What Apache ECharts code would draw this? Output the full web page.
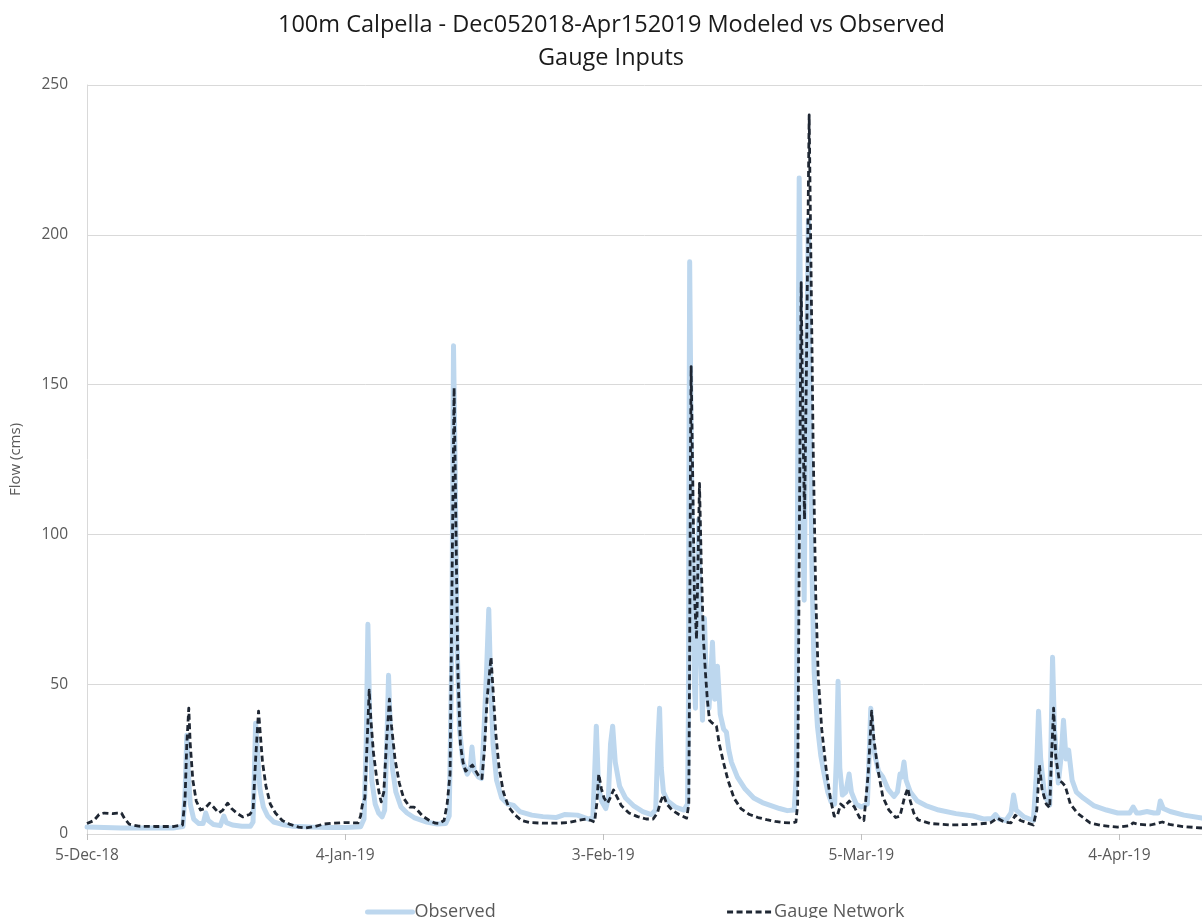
<!DOCTYPE html>
<html>
<head>
<meta charset="utf-8">
<script src="https://cdn.jsdelivr.net/npm/echarts@6/dist/echarts.min.js"></script>
<style>
html,body{margin:0;padding:0;background:#fff;}
#chart{width:1202px;height:918px;}
</style>
</head>
<body>
<div id="chart"></div>
<script>
// ---- data ----
var titleLines = ['100m Calpella - Dec052018-Apr152019 Modeled vs Observed', 'Gauge Inputs'];
var seriesNames = ['Observed', 'Gauge Network'];
var startDate = [2018, 11, 5];          // 5-Dec-2018 (day 0)
var xMaxDay = 129.6;                     // right edge of plot (days from start)
var xTickDays = [0, 30, 60, 90, 120];
var yTicks = [0, 50, 100, 150, 200, 250];
var monthNames = ['Jan','Feb','Mar','Apr','May','Jun','Jul','Aug','Sep','Oct','Nov','Dec'];

// [days since 5-Dec-2018, flow (cms)]
var observed = [[0,2.3],[2,2.2],[4,2.0],[6,2.0],[8,2.0],[10,2.0],[11.15,2.5],[11.4,14],[11.6,33],[11.75,22],[12.0,10],[12.4,5],[13.0,3.5],[13.5,3.5],[13.8,7],[14.1,4.5],[14.7,3.2],[15.5,2.8],[15.9,6],[16.2,3.8],[16.9,3.0],[18.0,2.6],[19.0,2.6],[19.3,4],[19.45,20],[19.6,37],[19.8,28],[20.1,15],[20.5,9],[21.0,6],[21.7,4],[22.7,3.2],[24,2.6],[26,2.3],[28,2.2],[30,2.2],[31.8,2.4],[32.2,5],[32.45,30],[32.65,70],[32.85,40],[33.1,18],[33.5,10],[33.9,7],[34.3,5.7],[34.6,8],[34.85,30],[35.05,53],[35.25,35],[35.5,22],[35.9,14],[36.5,9],[37.2,7],[38,5.5],[39.5,4],[40.7,3.3],[41.7,3.5],[42.1,6],[42.4,60],[42.6,163],[42.8,120],[43.0,65],[43.3,35],[43.7,24],[44.2,20],[44.55,22],[44.75,29],[45.0,21],[45.5,19],[45.85,18.5],[46.15,35],[46.45,55],[46.7,75],[46.9,52],[47.2,30],[47.6,18],[48.2,12],[48.9,10],[49.6,9.5],[50.3,7.5],[51.7,6.3],[53,5.8],[54.5,5.5],[55.5,6.5],[57,6.3],[58.3,5],[58.8,5.5],[59.0,20],[59.2,36],[59.45,16],[59.8,11],[60.3,8.5],[60.6,12],[60.85,30],[61.1,36],[61.4,24],[61.9,16],[62.6,12],[63.5,9.5],[64.6,7.5],[65.6,6.5],[66.1,8],[66.35,30],[66.55,42],[66.75,22],[67.0,14],[67.5,11],[68.4,9],[69.4,8],[69.8,10],[69.9,40],[69.97,120],[70.05,191],[70.2,140],[70.4,80],[70.6,50],[70.72,42],[70.9,75],[71.1,105],[71.35,60],[71.54,38],[71.77,72],[72.0,50],[72.3,42],[72.7,64],[72.95,45],[73.28,56],[73.6,40],[74.0,35],[74.32,34],[74.6,28],[74.9,24],[75.6,19],[76.5,15],[77.5,12],[78.5,10.5],[79.5,9.5],[80.5,8.5],[81.4,7.8],[82.2,8],[82.45,20],[82.6,120],[82.78,219],[82.95,170],[83.15,110],[83.36,78],[83.6,150],[83.85,205],[84.05,140],[84.25,90],[84.52,54],[84.9,36],[85.3,26],[85.68,20],[86.1,14],[86.49,10.7],[86.9,10],[87.1,25],[87.3,51],[87.5,22],[87.8,13],[88.2,14],[88.58,20],[88.85,14],[89.4,10],[90.0,9],[90.7,10],[90.9,25],[91.1,42],[91.35,30],[91.6,26],[92.0,21],[92.5,19],[93.1,15],[93.8,12.5],[94.2,14],[94.5,20],[94.7,19],[94.96,24],[95.2,18],[95.7,14],[96.5,11],[97.5,9.5],[99,8],[101,6.8],[103,6],[104.2,5],[105.2,5.2],[105.6,6.5],[106.0,5],[106.8,4.5],[107.4,7],[107.7,13],[108.0,8],[108.9,5.7],[110.0,4.5],[110.35,20],[110.6,41],[110.85,25],[111.3,13],[111.9,9.7],[112.05,30],[112.23,59],[112.45,35],[112.9,17],[113.2,25],[113.5,38],[113.8,25],[114.1,28],[114.5,18],[115.0,14],[115.8,12],[117,9.5],[118.5,8],[119.8,7],[121.2,7],[121.6,9],[122.0,7],[122.4,7],[123.2,7.5],[124,7],[124.5,7],[124.75,11],[125.1,8.5],[125.9,7.5],[127.5,6.3],[129.6,5.3]];

var gaugeNetwork = [[0,3.5],[0.8,4.5],[1.4,6.5],[2.0,7],[3.0,6.8],[3.5,7],[4.0,7],[4.4,5],[4.9,3.3],[6,2.6],[8,2.5],[10,2.5],[11.1,3],[11.4,12],[11.6,30],[11.83,42],[12.0,30],[12.3,18],[12.7,11],[13.2,8],[13.7,8.5],[14.26,10.3],[14.7,9],[15.3,7],[15.8,8],[16.35,10.3],[16.8,8.5],[17.4,7],[18.09,5.7],[18.9,6.5],[19.3,8],[19.6,25],[19.94,41],[20.1,35],[20.4,24],[20.8,16],[21.3,10],[21.9,7],[22.7,4.5],[23.6,3.2],[24.6,2.3],[25.4,2],[26.5,2.5],[27.5,3.3],[28.5,3.6],[30,3.8],[31.5,3.7],[31.8,6],[32.0,9.7],[32.3,12],[32.55,30],[32.8,48],[33.0,38],[33.3,27],[33.7,18],[34.0,13],[34.2,10.7],[34.5,14],[34.8,30],[35.15,45],[35.4,36],[35.8,25],[36.3,17],[36.8,12],[37.5,9],[38.0,9],[38.4,8],[39.0,6],[39.8,4.5],[40.5,3.6],[40.9,3.5],[41.5,4.5],[41.86,10],[42.2,20],[42.45,90],[42.67,149],[42.85,110],[43.1,55],[43.4,30],[43.7,24],[44.0,21],[44.4,22],[44.8,23],[45.2,21],[45.6,19],[45.9,18.5],[46.2,28],[46.5,45],[46.96,59],[47.2,48],[47.5,34],[47.9,22],[48.4,14],[49.0,9],[49.7,6.5],[50.5,4.5],[51.5,3.8],[53,3.6],[54.5,3.6],[56,3.8],[57,4.5],[58,5],[58.6,4.5],[59.0,4],[59.25,10],[59.48,20],[59.8,15],[60.1,12],[60.5,10.3],[60.8,12],[61.2,14.7],[61.5,13],[62.1,9.5],[63,7],[64,5.8],[65,5],[65.8,5],[66.3,7],[66.7,11],[67.0,13],[67.4,10],[68,8],[68.8,6.5],[69.7,5.3],[69.95,10],[70.05,60],[70.15,130],[70.22,156],[70.4,120],[70.6,80],[70.85,65],[71.05,95],[71.19,117],[71.4,90],[71.65,65],[71.88,54],[72.1,45],[72.35,38],[72.7,37],[73.16,36],[73.5,30],[73.97,24],[74.5,18],[75.2,12],[76,8.5],[77,6.5],[78,5.5],[79,4.8],[80,4.2],[81,3.8],[82.0,3.7],[82.4,4],[82.6,10],[82.8,100],[83.01,184],[83.2,140],[83.4,105],[83.6,150],[83.94,240],[84.15,190],[84.4,130],[84.7,80],[85.0,52],[85.4,35],[85.9,22],[86.4,12],[86.84,6],[87.2,6],[87.6,10],[88.0,9],[88.6,11],[89.2,9],[89.8,5.5],[90.3,4.5],[90.8,20],[91.2,41],[91.45,32],[91.9,22],[92.5,12.4],[93.2,8],[94.0,5.5],[94.5,6],[95.0,12],[95.4,15.3],[95.7,11],[96.1,7],[96.6,4.7],[98,3.5],[100.4,3],[103,3.2],[105,3.7],[105.8,5.3],[106.6,4],[107.4,3.7],[107.9,6.3],[108.5,4.5],[110.0,3],[110.4,8],[110.7,23],[111.0,15],[111.5,10],[111.9,8.7],[112.1,25],[112.35,42],[112.6,26],[113.0,18],[113.4,17],[113.7,16],[114.3,10],[115.1,7],[116.6,3.7],[118,2.8],[119.8,2.3],[121.2,2.8],[121.6,3.7],[122.3,3.2],[123.6,3],[125,4],[125.8,3.2],[127.4,2.5],[129.6,2]];

// ---- chart ----
var FONT = "'Open Sans', 'Noto Sans', sans-serif";
var TXT = '#595959';
var TITLE_SIZE = 23.5;
var TITLE_CENTER = 611;
var base = Date.UTC(startDate[0], startDate[1], startDate[2]);
function dayLabel(d) {
  if (xTickDays.indexOf(Math.round(d)) < 0 || Math.abs(d - Math.round(d)) > 1e-6) return '';
  var dt = new Date(base + Math.round(d) * 86400000);
  return dt.getUTCDate() + '-' + monthNames[dt.getUTCMonth()] + '-' + String(dt.getUTCFullYear() % 100).padStart(2, '0');
}
// measure each title line so its centre lands where the reference's does
var mctx = document.createElement('canvas').getContext('2d');
mctx.font = TITLE_SIZE + "px 'Open Sans'";
var titleTops = [10, 43];
var titles = titleLines.map(function (t, i) {
  var w = mctx.measureText(t).width;
  return {
    text: t,
    left: Math.round(TITLE_CENTER - w / 2),
    top: titleTops[i],
    padding: 0,
    textStyle: {fontFamily: FONT, fontSize: TITLE_SIZE, fontWeight: 'normal', color: '#1a1a1a', lineHeight: 30}
  };
});

var chart = echarts.init(document.getElementById('chart'), null, {renderer: 'canvas'});
chart.setOption({
  animation: false,
  backgroundColor: '#ffffff',
  textStyle: {fontFamily: FONT},
  title: titles,
  legend: {
    left: 365,
    top: 903,
    padding: 0,
    itemGap: 230,
    itemWidth: 45,
    itemHeight: 12,
    itemStyle: {opacity: 0, borderWidth: 0},
    textStyle: {fontFamily: FONT, fontSize: 18, color: TXT, padding: [0, 0, 0, -3]},
    data: [
      {name: seriesNames[0], lineStyle: {width: 5, color: '#bdd7ee'}},
      {name: seriesNames[1], lineStyle: {width: 2.8, color: '#1f2733', type: [6, 3.5]}}
    ]
  },
  grid: {left: 84, right: 0, top: 85, bottom: 84, containLabel: false},
  xAxis: {
    type: 'value',
    min: 0,
    max: xMaxDay,
    interval: 30,
    axisLine: {show: true, lineStyle: {color: '#d9d9d9', width: 1}},
    axisTick: {show: true, length: 6, lineStyle: {color: '#bfbfbf'}},
    splitLine: {show: false},
    axisLabel: {show: true, showMaxLabel: false, margin: 14, fontFamily: FONT, fontSize: 15.5, color: TXT, formatter: dayLabel}
  },
  yAxis: {
    type: 'value',
    min: yTicks[0],
    max: yTicks[yTicks.length - 1],
    interval: 50,
    name: 'Flow (cms)',
    nameLocation: 'middle',
    nameGap: 64,
    nameTextStyle: {fontFamily: FONT, fontSize: 15, color: TXT},
    axisLine: {show: true, lineStyle: {color: '#d9d9d9', width: 1}},
    axisTick: {show: false},
    splitLine: {show: true, lineStyle: {color: '#d9d9d9', width: 1}},
    axisLabel: {margin: 19, fontFamily: FONT, fontSize: 15.5, color: TXT}
  },
  series: [
    {
      name: seriesNames[0],
      type: 'line',
      data: observed,
      showSymbol: false,
      symbol: 'none',
      lineStyle: {color: '#bdd7ee', width: 5, join: 'round', cap: 'round'},
      itemStyle: {color: '#bdd7ee'},
      z: 2
    },
    {
      name: seriesNames[1],
      type: 'line',
      data: gaugeNetwork,
      showSymbol: false,
      symbol: 'none',
      lineStyle: {color: '#1f2733', width: 2.8, type: [6, 3.5], join: 'round'},
      itemStyle: {color: '#1f2733'},
      z: 3
    }
  ]
});
</script>
</body>
</html>
